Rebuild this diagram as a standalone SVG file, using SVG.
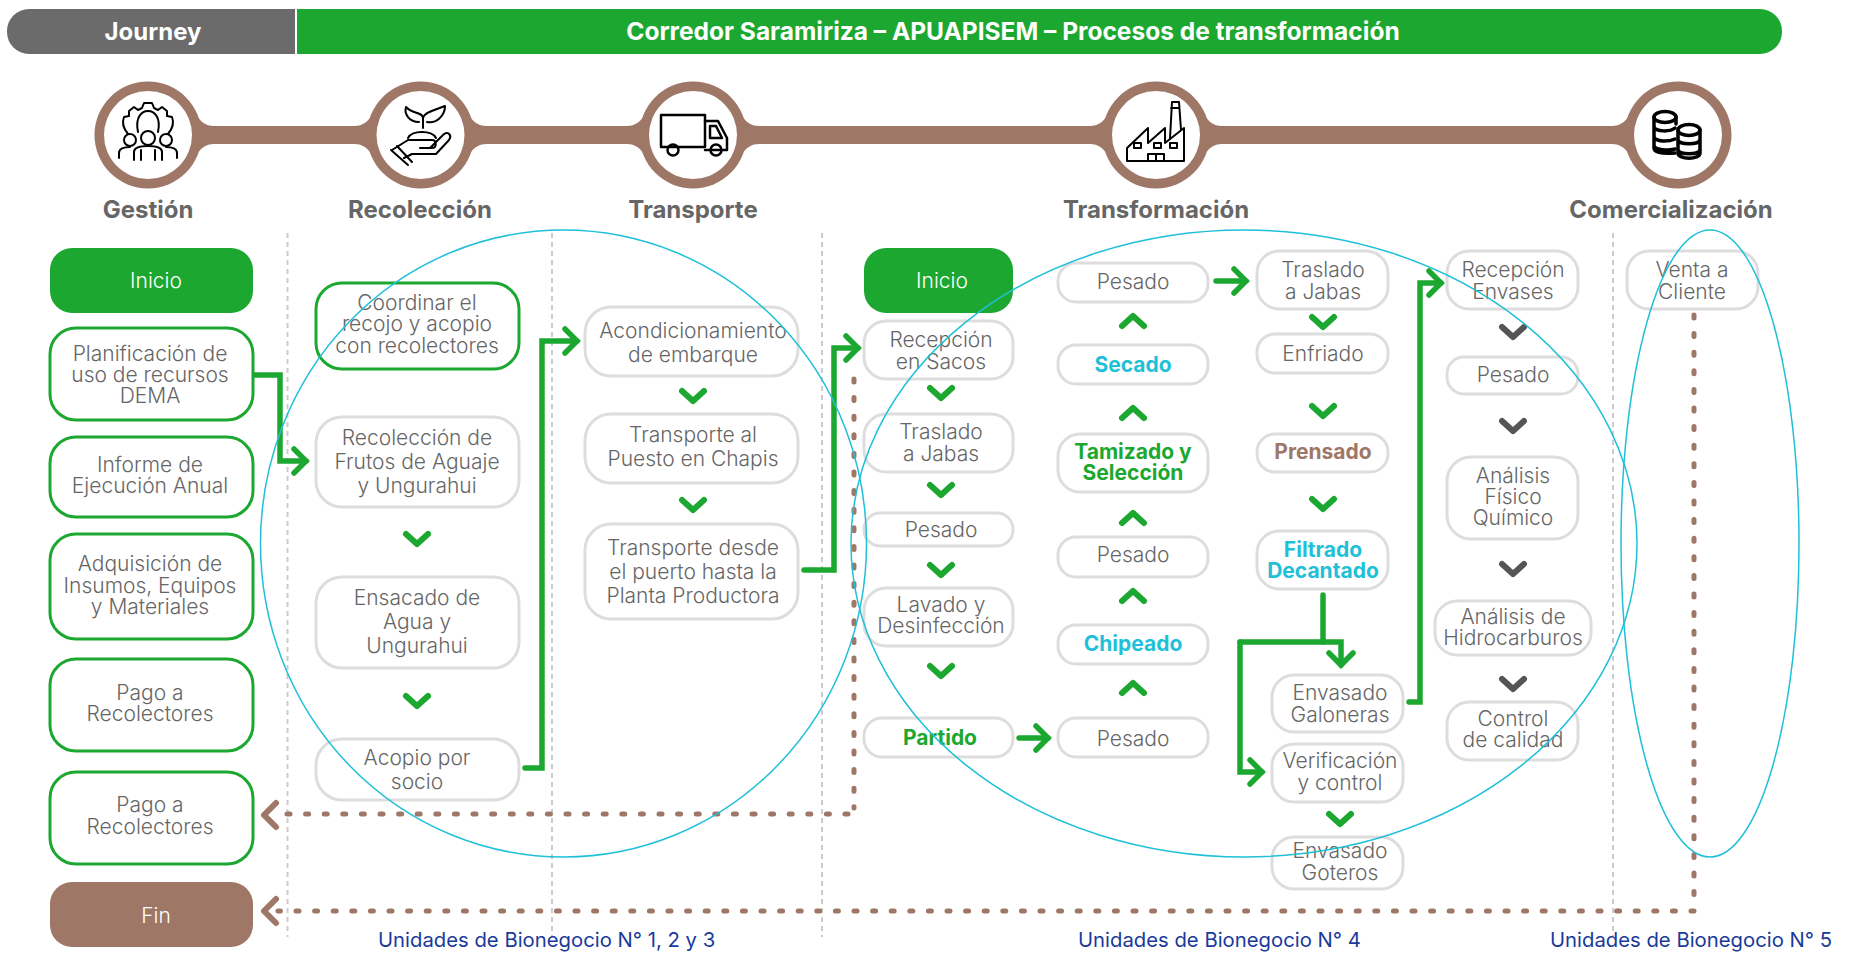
<svg xmlns="http://www.w3.org/2000/svg" width="1857" height="955" viewBox="0 0 1857 955">
<style>
text{font-family:Inter,"Noto Sans","Liberation Sans",sans-serif;font-size:21px;fill:#666;text-anchor:middle;font-weight:300}
.b{fill:#fff;stroke:#ddd;stroke-width:3}
.gb{fill:#fff;stroke:#1ca830;stroke-width:3}
.h{font-weight:700;font-size:24px}
.w{fill:#fff}
.t{font-size:24.500px}
.tg{fill:#1ca830;font-weight:700}
.tc{fill:#1fc0d8;font-weight:700}
.tb{fill:#9e7766;font-weight:700}
.u{fill:#1a3a9a;font-size:20.300px;font-weight:400;text-anchor:start}
.v{stroke:#ccc;stroke-width:2;stroke-dasharray:5 4;fill:none}
.c{fill:none;stroke:#1ca830;stroke-width:5.500;stroke-linejoin:miter;stroke-linecap:round}
.d{fill:none;stroke:#9e7766;stroke-width:5;stroke-linecap:round;stroke-dasharray:3 15.6}
.e{fill:none;stroke:#1fc0d8;stroke-width:1.5}
.i{fill:none;stroke:#000;stroke-width:2;stroke-linejoin:round;stroke-linecap:round}
.ch{fill:none;stroke:#1ca830;stroke-width:6;stroke-linecap:round;stroke-linejoin:round}
.cg{stroke:#555}
</style>
<defs>
<path id="chev" d="M-11,-5 L0,5 L11,-5"/>
<path id="chup" d="M-11,5 L0,-5 L11,5"/>
<marker id="ag" markerUnits="userSpaceOnUse" markerWidth="34" markerHeight="34" refX="17" refY="17" orient="auto"><path d="M5,5 L17,17 L5,29" fill="none" stroke="#1ca830" stroke-width="5.500" stroke-linecap="round"/></marker>
<g id="hub"><path d="M-66,-9 C-52,-9 -47,-22 -44,-30 L44,-30 C47,-22 52,-9 66,-9 L66,9 C52,9 47,22 44,30 L-44,30 C-47,22 -52,9 -66,9 Z" fill="#9e7766"/><circle r="53.5" fill="#9e7766"/><circle r="44" fill="#fff"/></g>
<g id="hubL"><path d="M0,-30 L44,-30 C47,-22 52,-9 66,-9 L66,9 C52,9 47,22 44,30 L0,30 Z" fill="#9e7766"/><circle r="53.5" fill="#9e7766"/><circle r="44" fill="#fff"/></g>
<g id="hubR"><path d="M-66,-9 C-52,-9 -47,-22 -44,-30 L0,-30 L0,30 L-44,30 C-47,22 -52,9 -66,9 Z" fill="#9e7766"/><circle r="53.5" fill="#9e7766"/><circle r="44" fill="#fff"/></g>
</defs>

<g id="header">
<path d="M295,9 H29 A22,22 0 0 0 7,31 V32 A22,22 0 0 0 29,54 H295 Z" fill="#6b6b6b"/>
<path d="M297,9 H1760 A22,22 0 0 1 1782,31 V32 A22,22 0 0 1 1760,54 H297 Z" fill="#1ca830"/>
<text class="h w" x="153" y="40">Journey</text>
<text class="h w t" x="1013" y="40">Corredor Saramiriza – APUAPISEM – Procesos de transformación</text>
</g>

<g id="road">
<rect x="148" y="126" width="1530" height="18" fill="#9e7766"/>
<use href="#hubL" x="148" y="135"/>
<use href="#hub" x="420.5" y="135"/>
<use href="#hub" x="693" y="135"/>
<use href="#hub" x="1156" y="135"/>
<use href="#hubR" x="1678" y="135"/>
</g>

<g id="icon-gestion" class="i">
<path d="M128,134 C123,128 122,122 124,117 L129,116 L129,111 L134,107 L138,110 L142,108 L144,103 H152 L154,108 L158,110 L162,107 L167,111 L167,116 L172,117 C174,122 173,128 168,134"/>
<path d="M138,132 C135,118 141,111 148,111 C155,111 161,118 158,132"/>
<circle cx="148" cy="138" r="7"/><circle cx="130" cy="140" r="6"/><circle cx="166" cy="140" r="6"/>
<path d="M134,160 V152 C134,147 141,146 148,146 C155,146 162,147 162,152 V160"/>
<path d="M119,153 C119,149 124,147 130,147 M177,153 C177,149 172,147 166,147 M119,153 V158 M177,153 V158 M141,150 V160 M155,150 V160"/>
</g>
<g id="icon-recoleccion" class="i">
<path d="M423,128 V118 C423,112 412,114 406,107 C404,114 409,122 419,122"/>
<path d="M423,118 C425,112 435,110 445,106 C445,116 436,124 427,122"/>
<path d="M408,138 C412,130 432,130 436,138"/>
<path d="M392,150 L408,140 H432 C437,140 437,148 432,148 H420 M430,148 L444,134 C449,131 452,136 449,140 L436,154 H412 L404,158"/>
<path d="M391,150 L408,165 M397,146 L412,162"/>
</g>
<g id="icon-transporte" class="i">
<path d="M661,115 H705 V147 H661 Z" stroke-width="2.5"/>
<path d="M705,121 H718 L727,138 V150 H705 M710,126 H716 L722,138 H710 Z" stroke-width="2.5"/>
<circle cx="673" cy="150" r="5.5" stroke-width="2.5"/><circle cx="716" cy="150" r="5.5" stroke-width="2.5"/>
</g>
<g id="icon-transformacion" class="i">
<path d="M1127,161 H1184 V128 L1165,143 V128 L1148,143 V128 L1127,148 Z"/>
<path d="M1170,138 L1172,102 H1179 L1181,130 M1171,108 H1179"/>
<path d="M1134,143 h7 v5 h-7z M1154,143 h7 v5 h-7z M1170,143 h7 v5 h-7z M1148,161 V154 H1164 V161 M1156,154 V161"/>
</g>
<g id="icon-comercializacion" class="i">
<ellipse cx="1665" cy="117" rx="11" ry="5.500" stroke-width="3.500"/>
<path d="M1654,117 V148 C1654,152 1660,154 1675,153 M1654,127 C1656,132 1670,132 1675,128 M1654,137 C1656,142 1668,142 1675,139 M1654,146 C1656,150 1668,151 1675,149 M1676,117 V124" stroke-width="3.500"/>
<ellipse cx="1689" cy="130" rx="11" ry="5.500" stroke-width="3.500"/>
<path d="M1678,130 V153 C1678,160 1700,160 1700,153 V130 M1678,140 C1680,145 1698,145 1700,140 M1678,150 C1680,155 1698,155 1700,150" stroke-width="3.500"/>
</g>

<text class="h" x="148" y="218">Gestión</text>
<text class="h" x="420" y="218">Recolección</text>
<text class="h" x="693" y="218">Transporte</text>
<text class="h" x="1156" y="218">Transformación</text>
<text class="h" x="1671" y="218">Comercialización</text>

<g id="guides">
<path class="v" d="M287.500,233 V937"/><path class="v" d="M552,233 V937"/><path class="v" d="M822,233 V937"/><path class="v" d="M1613,233 V937"/>
</g>

<g id="connectors">
<path class="d" d="M854,379 V808"/>
<path class="d" d="M848,814 H280"/>
<path class="d" d="M1694,315 V905"/>
<path class="d" d="M1694,911 H278"/>
<path d="M276,803 L264,815 L276,827 M276,899 L264,911 L276,923" fill="none" stroke="#9e7766" stroke-width="6" stroke-linecap="round" stroke-linejoin="round"/>
<path class="c" d="M254,375 H280 V461 H306" marker-end="url(#ag)"/>
<path class="c" d="M525,768 H542 V341 H577" marker-end="url(#ag)"/>
<path class="c" d="M804,570 H834 V348 H858" marker-end="url(#ag)"/>
<path class="c" d="M1019,738 H1048" marker-end="url(#ag)"/>
<path class="c" d="M1216,281 H1246" marker-end="url(#ag)"/>
<path class="c" d="M1409,702 H1420 V283 H1441" marker-end="url(#ag)"/>
<path class="c" d="M1323,595 V642"/>
<path class="c" d="M1240,642 H1341 V665" marker-end="url(#ag)"/>
<path class="c" d="M1240,642 V772 H1262" marker-end="url(#ag)"/>
<g class="ch">
<use href="#chev" x="417" y="539"/><use href="#chev" x="417" y="701"/>
<use href="#chev" x="693" y="396"/><use href="#chev" x="693" y="505"/>
<use href="#chev" x="941" y="393"/><use href="#chev" x="941" y="490"/><use href="#chev" x="941" y="570"/><use href="#chev" x="941" y="671"/>
<use href="#chup" x="1133" y="321"/><use href="#chup" x="1133" y="413"/><use href="#chup" x="1133" y="518"/><use href="#chup" x="1133" y="596"/><use href="#chup" x="1133" y="688"/>
<use href="#chev" x="1323" y="322"/><use href="#chev" x="1323" y="411"/><use href="#chev" x="1323" y="504"/>
<use href="#chev" x="1340" y="819"/>
<g class="cg"><use href="#chev" x="1513" y="332"/><use href="#chev" x="1513" y="426"/><use href="#chev" x="1513" y="569"/><use href="#chev" x="1513" y="684"/></g>
</g>
</g>

<g id="n-inicio1"><rect x="50" y="248" width="203" height="65" rx="22" fill="#1ca830"/><text class="w" x="156" y="288">Inicio</text></g>
<g id="n-planificacion"><rect class="gb" x="50" y="328" width="203" height="92" rx="26"/><text x="150" y="361">Planificación de</text><text x="150" y="382">uso de recursos</text><text x="150" y="403">DEMA</text></g>
<g id="n-informe"><rect class="gb" x="50" y="437" width="203" height="80" rx="26"/><text x="150" y="472">Informe de</text><text x="150" y="493">Ejecución Anual</text></g>
<g id="n-adquisicion"><rect class="gb" x="50" y="534" width="203" height="105" rx="26"/><text x="150" y="571">Adquisición de</text><text x="150" y="593">Insumos, Equipos</text><text x="150" y="614">y Materiales</text></g>
<g id="n-pago1"><rect class="gb" x="50" y="659" width="203" height="92" rx="26"/><text x="150" y="700">Pago a</text><text x="150" y="721">Recolectores</text></g>
<g id="n-pago2"><rect class="gb" x="50" y="772" width="203" height="92" rx="26"/><text x="150" y="812">Pago a</text><text x="150" y="834">Recolectores</text></g>
<g id="n-fin"><rect x="50" y="882" width="203" height="65" rx="22" fill="#9e7766"/><text class="w" x="156" y="923">Fin</text></g>

<g id="n-coordinar"><rect class="gb" x="316" y="283" width="203" height="86" rx="26"/><text x="417" y="310">Coordinar el</text><text x="417" y="331">recojo y acopio</text><text x="417" y="353">con recolectores</text></g>
<g id="n-recoleccion"><rect class="b" x="316" y="417" width="203" height="90" rx="26"/><text x="417" y="445">Recolección de</text><text x="417" y="469">Frutos de Aguaje</text><text x="417" y="493">y Ungurahui</text></g>
<g id="n-ensacado"><rect class="b" x="316" y="577" width="203" height="91" rx="26"/><text x="417" y="605">Ensacado de</text><text x="417" y="629">Agua y</text><text x="417" y="653">Ungurahui</text></g>
<g id="n-acopio"><rect class="b" x="316" y="739" width="203" height="61" rx="26"/><text x="417" y="765">Acopio por</text><text x="417" y="789">socio</text></g>

<g id="n-acondicionamiento"><rect class="b" x="585" y="307" width="213" height="69" rx="26"/><text x="693" y="338">Acondicionamiento</text><text x="693" y="362">de embarque</text></g>
<g id="n-transporte1"><rect class="b" x="585" y="414" width="213" height="69" rx="26"/><text x="693" y="442">Transporte al</text><text x="693" y="466">Puesto en Chapis</text></g>
<g id="n-transporte2"><rect class="b" x="585" y="524" width="213" height="95" rx="26"/><text x="693" y="555">Transporte desde</text><text x="693" y="579">el puerto hasta la</text><text x="693" y="603">Planta Productora</text></g>

<g id="n-inicio2"><rect x="864" y="248" width="149" height="65" rx="22" fill="#1ca830"/><text class="w" x="942" y="288">Inicio</text></g>
<g id="n-recepcion"><rect class="b" x="864" y="321" width="149" height="58" rx="22"/><text x="941" y="347">Recepción</text><text x="941" y="369">en Sacos</text></g>
<g id="n-traslado1"><rect class="b" x="864" y="414" width="149" height="58" rx="22"/><text x="941" y="439">Traslado</text><text x="941" y="461">a Jabas</text></g>
<g id="n-pesado1"><rect class="b" x="864" y="513" width="149" height="33" rx="16"/><text x="941" y="537">Pesado</text></g>
<g id="n-lavado"><rect class="b" x="864" y="588" width="149" height="58" rx="22"/><text x="941" y="612">Lavado y</text><text x="941" y="633">Desinfección</text></g>
<g id="n-partido"><rect class="b" x="864" y="718" width="149" height="39" rx="18"/><text class="tg" x="940" y="745">Partido</text></g>

<g id="n-pesado2"><rect class="b" x="1058" y="263" width="150" height="39" rx="18"/><text x="1133" y="289">Pesado</text></g>
<g id="n-secado"><rect class="b" x="1058" y="345" width="150" height="39" rx="18"/><text class="tc" x="1133" y="372">Secado</text></g>
<g id="n-tamizado"><rect class="b" x="1058" y="434" width="150" height="58" rx="22"/><text class="tg" x="1133" y="459">Tamizado y</text><text class="tg" x="1133" y="480">Selección</text></g>
<g id="n-pesado3"><rect class="b" x="1058" y="537" width="150" height="40" rx="18"/><text x="1133" y="562">Pesado</text></g>
<g id="n-chipeado"><rect class="b" x="1058" y="625" width="150" height="39" rx="18"/><text class="tc" x="1133" y="651">Chipeado</text></g>
<g id="n-pesado4"><rect class="b" x="1058" y="718" width="150" height="39" rx="18"/><text x="1133" y="746">Pesado</text></g>

<g id="n-traslado2"><rect class="b" x="1257" y="251" width="131" height="58" rx="22"/><text x="1323" y="277">Traslado</text><text x="1323" y="299">a Jabas</text></g>
<g id="n-enfriado"><rect class="b" x="1257" y="334" width="131" height="39" rx="18"/><text x="1323" y="361">Enfriado</text></g>
<g id="n-prensado"><rect class="b" x="1257" y="434" width="131" height="38" rx="18"/><text class="tb" x="1323" y="459">Prensado</text></g>
<g id="n-filtrado"><rect class="b" x="1257" y="531" width="131" height="58" rx="22"/><text class="tc" x="1323" y="557">Filtrado</text><text class="tc" x="1323" y="578">Decantado</text></g>

<g id="n-galoneras"><rect class="b" x="1272" y="675" width="131" height="57" rx="22"/><text x="1340" y="700">Envasado</text><text x="1340" y="722">Galoneras</text></g>
<g id="n-verificacion"><rect class="b" x="1272" y="744" width="131" height="58" rx="22"/><text x="1340" y="768">Verificación</text><text x="1340" y="790">y control</text></g>
<g id="n-goteros"><rect class="b" x="1272" y="837" width="131" height="52" rx="22"/><text x="1340" y="858">Envasado</text><text x="1340" y="880">Goteros</text></g>

<g id="n-envases"><rect class="b" x="1447" y="251" width="131" height="58" rx="22"/><text x="1513" y="277">Recepción</text><text x="1513" y="299">Envases</text></g>
<g id="n-pesado5"><rect class="b" x="1447" y="357" width="131" height="37" rx="17"/><text x="1513" y="382">Pesado</text></g>
<g id="n-fisico"><rect class="b" x="1447" y="457" width="131" height="82" rx="24"/><text x="1513" y="483">Análisis</text><text x="1513" y="504">Físico</text><text x="1513" y="525">Químico</text></g>
<g id="n-hidrocarburos"><rect class="b" x="1435" y="601" width="156" height="54" rx="22"/><text x="1513" y="624">Análisis de</text><text x="1513" y="645">Hidrocarburos</text></g>
<g id="n-control"><rect class="b" x="1447" y="702" width="131" height="58" rx="22"/><text x="1513" y="726">Control</text><text x="1513" y="747">de calidad</text></g>
<g id="n-venta"><rect class="b" x="1627" y="251" width="131" height="58" rx="22"/><text x="1692" y="277">Venta a</text><text x="1692" y="299">Cliente</text></g>

<g id="units">
<ellipse class="e" cx="563.500" cy="543.500" rx="303" ry="313.500"/>
<ellipse class="e" cx="1244" cy="543.500" rx="393" ry="313.500"/>
<ellipse class="e" cx="1710" cy="543.500" rx="89" ry="313.500"/>
<text class="u" x="378" y="947">Unidades de Bionegocio N° 1, 2 y 3</text>
<text class="u" x="1078" y="947">Unidades de Bionegocio N° 4</text>
<text class="u" x="1550" y="947">Unidades de Bionegocio N° 5</text>
</g>
</svg>
